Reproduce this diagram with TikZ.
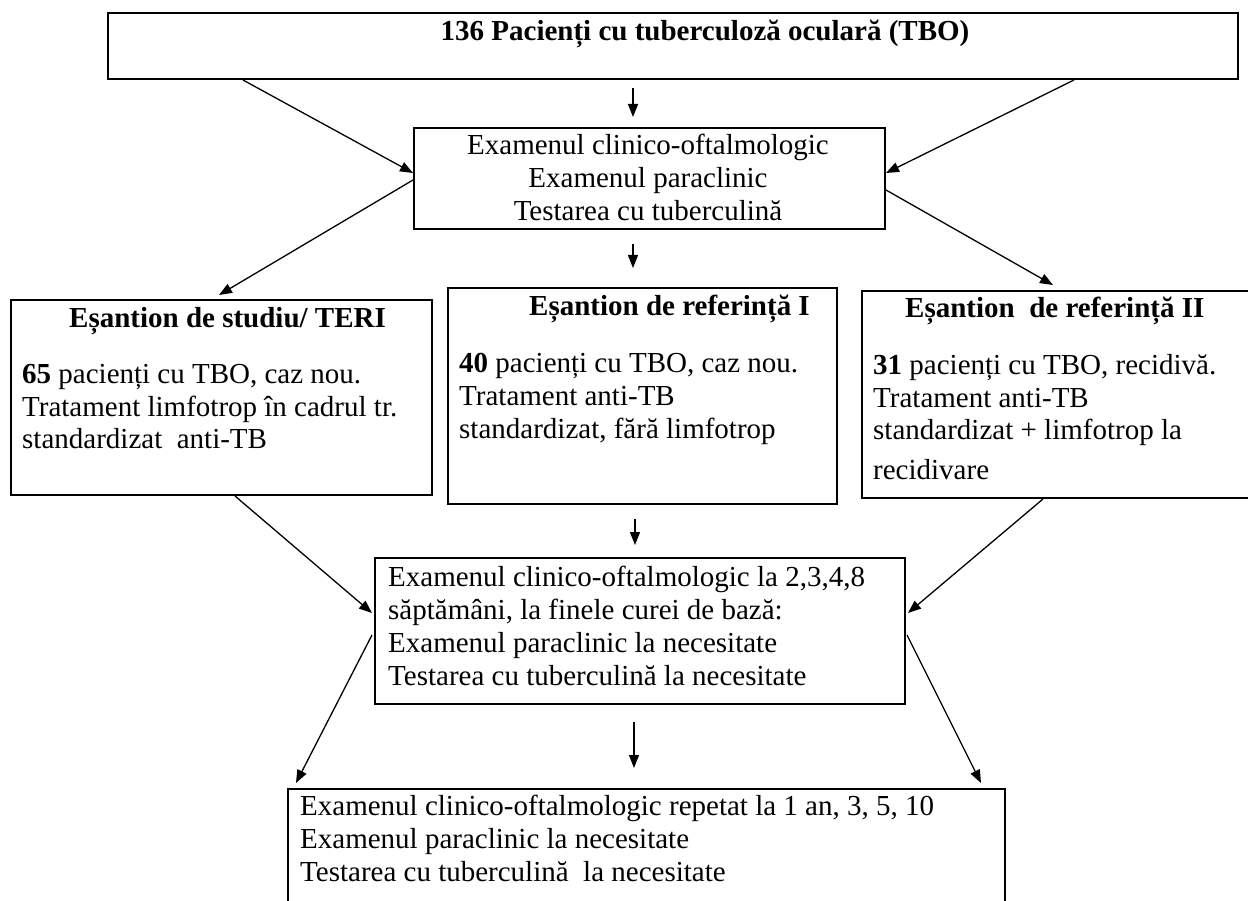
\documentclass[tikz,border=0pt]{standalone}
\usepackage{fontspec}
\setmainfont{Liberation Serif}
\usetikzlibrary{arrows.meta,calc}
\newcommand\txtl[1]{\begin{tabular}[t]{@{}l@{}}#1\end{tabular}}
\newcommand\txtc[1]{\begin{tabular}[t]{@{}c@{}}#1\end{tabular}}
\tikzset{
  box/.style={draw, line width=2pt, inner sep=0pt, anchor=north west},
  txt/.style={inner sep=0pt, font=\fontsize{29}{33}\selectfont},
  txtb/.style={inner sep=0pt, font=\fontsize{29}{33}\selectfont\bfseries},
  arr/.style={line width=1.3pt, -{Triangle[length=13pt,width=10pt]}}
}
\begin{document}
\begin{tikzpicture}[x=1pt,y=-1pt]
\useasboundingbox[fill=white] (0,0) rectangle (1248,901);
% boxes
\node[box, minimum width=1130pt, minimum height=66pt] (top) at (107,12) {};
\node[box, minimum width=471pt, minimum height=101pt] (b2) at (413,127) {};
\node[box, minimum width=421pt, minimum height=195pt] (bA) at (10,299) {};
\node[box, minimum width=389pt, minimum height=216pt] (bB) at (447,287) {};
\node[box, minimum width=400pt, minimum height=207pt] (bC) at (861,290) {};
\node[box, minimum width=530pt, minimum height=146pt] (bD) at (374,557) {};
\node[box, minimum width=717pt, minimum height=130pt] (bE) at (287,788) {};
% texts
\node[txtb, anchor=base] (tT) at (705,41) {136 Pacienți cu tuberculoză oculară (TBO)};
\node[txt, anchor=base] (t2) at (648,155) {\txtc{Examenul clinico-oftalmologic\\Examenul paraclinic\\Testarea cu tuberculină}};
\node[txtb, anchor=base west] (tAh) at (69,327) {Eșantion de studiu/ TERI};
\node[txt, anchor=base west] (tA) at (22,383) {\txtl{\textbf{65} pacienți cu TBO, caz nou.\\Tratament limfotrop în cadrul tr.\\standardizat\ \ anti-TB}};
\node[txtb, anchor=base west] (tBh) at (529,316) {Eșantion de referință I};
\node[txt, anchor=base west] (tB) at (459,373) {\txtl{\textbf{40} pacienți cu TBO, caz nou.\\Tratament anti-TB\\standardizat, fără limfotrop}};
\node[txtb, anchor=base west] (tCh) at (905,318) {Eșantion\ \ de referință II};
\node[txt, anchor=base west] (tC) at (873,374) {\txtl{\textbf{31} pacienți cu TBO, recidivă.\\Tratament anti-TB\\standardizat + limfotrop la\\[6pt]recidivare}};
\node[txt, anchor=base west] (tD) at (388,586) {\txtl{Examenul clinico-oftalmologic la 2,3,4,8\\săptămâni, la finele curei de bază:\\Examenul paraclinic la necesitate\\Testarea cu tuberculină la necesitate}};
\node[txt, anchor=base west] (tE) at (300,815) {\txtl{Examenul clinico-oftalmologic repetat la 1 an, 3, 5, 10\\Examenul paraclinic la necesitate\\Testarea cu tuberculină\ \ la necesitate}};
% connectors
\draw[arr] ($(top.south west)+(136,0)$) -- ($(b2.north west)+(0,46)$);
\draw[arr] ($(top.south west)+(526,8)$) -- ($(b2.north west)+(220,-10)$);
\draw[arr] ($(top.south west)+(967,0)$) -- ($(b2.north east)+(0,46)$);
\draw[arr] ($(b2.north west)+(0,53)$) -- ($(bA.north west)+(209,-4)$);
\draw[arr] ($(b2.south west)+(220,14)$) -- ($(bB.north west)+(186,-19)$);
\draw[arr] ($(b2.north east)+(0,63)$) -- ($(bC.north west)+(192,-5)$);
\draw[arr] ($(bA.south west)+(225,0)$) -- ($(bD.north west)+(-2,56)$);
\draw[arr] ($(bB.south west)+(188,14)$) -- ($(bD.north west)+(261,-12)$);
\draw[arr] ($(bC.south west)+(182,0)$) -- ($(bD.north east)+(2,56)$);
\draw[arr] ($(bD.north west)+(-2,78)$) -- ($(bE.north west)+(9,-5)$);
\draw[arr] ($(bD.south west)+(260,17)$) -- ($(bE.north west)+(347,-20)$);
\draw[arr] ($(bD.north east)+(1,78)$) -- ($(bE.north east)+(-25,-5)$);
\end{tikzpicture}
\end{document}
